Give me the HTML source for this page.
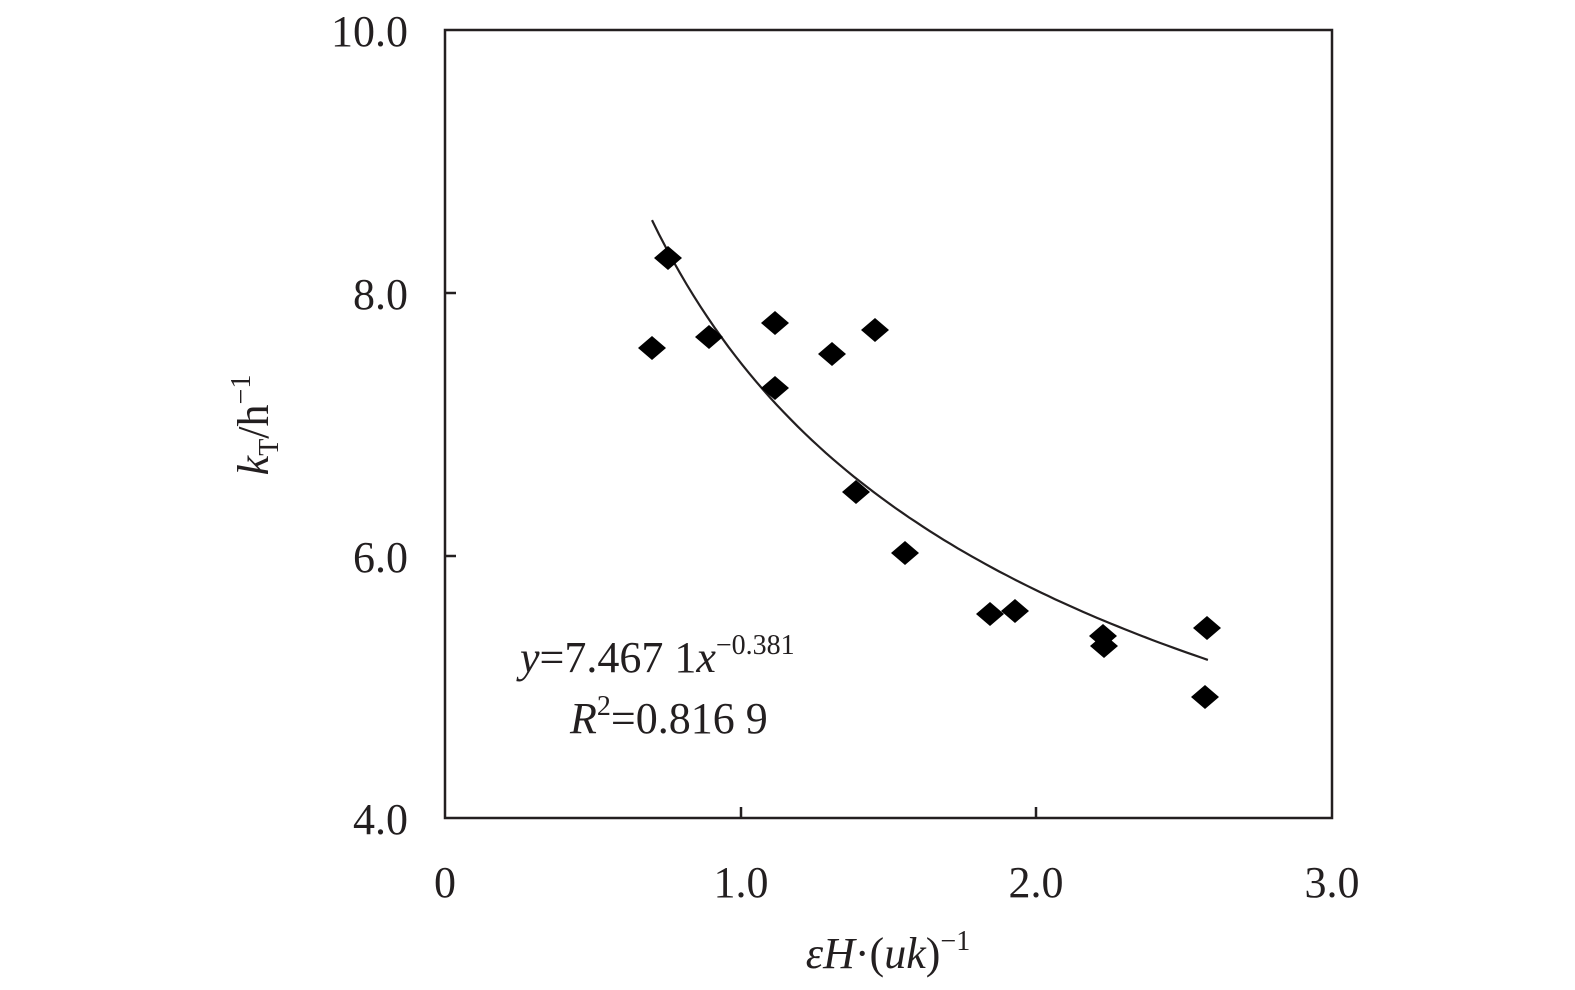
<!DOCTYPE html>
<html><head><meta charset="utf-8"><style>body{margin:0;background:#fff}svg{display:block}</style></head>
<body>
<svg width="1575" height="990" viewBox="0 0 1575 990" xmlns="http://www.w3.org/2000/svg" font-family="Liberation Serif, serif" fill="#231f20">
<rect x="445" y="30" width="887" height="788" fill="none" stroke="#231f20" stroke-width="2.5"/>
<g stroke="#231f20" stroke-width="2.5">
<line x1="445" y1="293" x2="456" y2="293"/><line x1="445" y1="556" x2="456" y2="556"/>
<line x1="741" y1="818" x2="741" y2="807"/><line x1="1036" y1="818" x2="1036" y2="807"/>
</g>
<g font-size="44" text-anchor="end">
<text x="408" y="46">10.0</text><text x="408" y="309">8.0</text><text x="408" y="572">6.0</text><text x="408" y="834">4.0</text>
</g>
<g font-size="44" text-anchor="middle">
<text x="445" y="897">0</text><text x="741" y="897">1.0</text><text x="1036" y="897">2.0</text><text x="1332" y="897">3.0</text>
</g>
<text transform="translate(268,425) rotate(-90)" font-size="44" text-anchor="middle"><tspan font-style="italic">k</tspan><tspan font-size="28" dy="10">T</tspan><tspan dy="-10">/h</tspan><tspan font-size="28" dy="-18">−1</tspan></text>
<text x="888" y="968" font-size="44" text-anchor="middle"><tspan font-style="italic">εH</tspan>·(<tspan font-style="italic">uk</tspan>)<tspan font-size="28" dy="-18">−1</tspan></text>
<text x="520" y="672" font-size="44"><tspan font-style="italic">y</tspan>=7.467 1<tspan font-style="italic">x</tspan><tspan font-size="28" dy="-18">−0.381</tspan></text>
<text x="570" y="733" font-size="44"><tspan font-style="italic">R</tspan><tspan font-size="28" dy="-18">2</tspan><tspan dy="18">=0.816 9</tspan></text>
<path id="c" fill="none" stroke="#231f20" stroke-width="2.2" d=""/>
<g fill="#000">
<polygon points="638,348 652,336 666,348 652,360"/>
<polygon points="654,258 668,246 682,258 668,270"/>
<polygon points="695,337 709,325 723,337 709,349"/>
<polygon points="761,323 775,311 789,323 775,335"/>
<polygon points="761,388 775,376 789,388 775,400"/>
<polygon points="818,354 832,342 846,354 832,366"/>
<polygon points="861,330 875,318 889,330 875,342"/>
<polygon points="842,492 856,480 870,492 856,504"/>
<polygon points="891,553 905,541 919,553 905,565"/>
<polygon points="976,614 990,602 1004,614 990,626"/>
<polygon points="1001,611 1015,599 1029,611 1015,623"/>
<polygon points="1089,636 1103,624 1117,636 1103,648"/>
<polygon points="1090,646 1104,634 1118,646 1104,658"/>
<polygon points="1193,628 1207,616 1221,628 1207,640"/>
<polygon points="1191,697 1205,685 1219,697 1205,709"/>
</g>
<script>
var d="";for(var i=0;i<=80;i++){var x=0.7+(2.58-0.7)*i/80;var y=7.4671*Math.pow(x,-0.381);var px=445+x*295.7,py=818-(y-4)*131.3;d+=(i?"L":"M")+px.toFixed(1)+","+py.toFixed(1);}
document.getElementById("c").setAttribute("d",d);
</script>
</svg>
</body></html>
